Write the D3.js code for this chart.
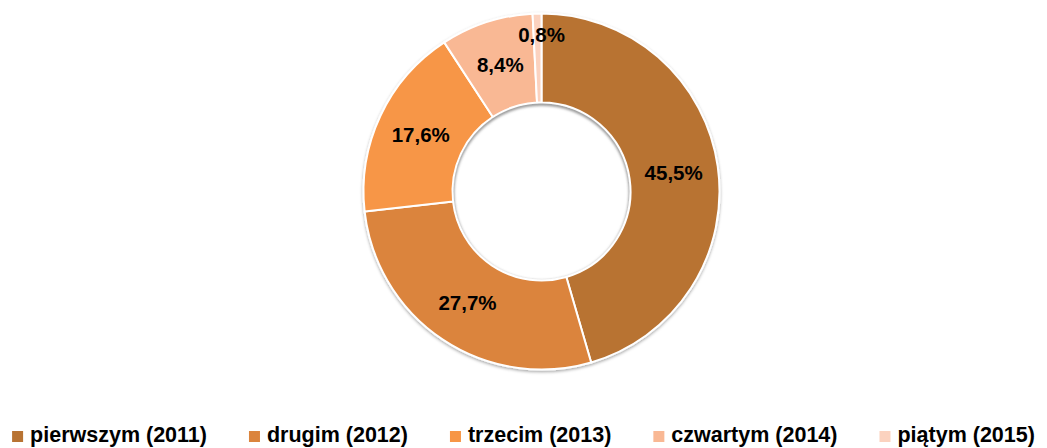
<!DOCTYPE html>
<html>
<head>
<meta charset="utf-8">
<script src="https://cdn.jsdelivr.net/npm/d3@7"></script>
<style>
    body { margin: 0; background: #fff; }
    svg { display: block; font-family: "Liberation Sans", Arial, sans-serif; font-weight: bold; }
</style>
</head>
<body>
<svg id="chart" width="1047" height="448"></svg>
<script>
var categories = ["pierwszym (2011)", "drugim (2012)", "trzecim (2013)", "czwartym (2014)", "piątym (2015)"];
var values = [45.5, 27.7, 17.6, 8.4, 0.8];
var colors = ["#B87333", "#DB843D", "#F79646", "#F9B894", "#FBD2BF"];

var width = 1047,
    height = 448,
    cx = 541.5,
    cy = 191.5,
    outer = 178,
    inner = 89;

var svg = d3.select("#chart");

// cienie
var defs = svg.append("defs");
var shadow = defs.append("filter").attr("id", "shadow")
    .attr("x", "-10%").attr("y", "-10%").attr("width", "120%").attr("height", "120%");
shadow.append("feDropShadow")
    .attr("dx", 0).attr("dy", 1.5).attr("stdDeviation", 1.5)
    .attr("flood-color", "#000").attr("flood-opacity", 0.35);
var blur = defs.append("filter").attr("id", "blur");
blur.append("feGaussianBlur").attr("stdDeviation", 1.5);
defs.append("clipPath").attr("id", "hole")
    .append("circle").attr("cx", cx).attr("cy", cy).attr("r", inner - 1);

var color = d3.scaleOrdinal()
    .domain(categories)
    .range(colors);

var pie = d3.pie()
    .sort(null)
    .value(function (d, i) {
        return values[i];
    });

var arc = d3.arc()
    .outerRadius(outer)
    .innerRadius(inner);

var arcs = pie(categories);

var g = svg.append("g")
    .attr("transform", "translate(" + cx + "," + cy + ")");

g.append("g")
    .attr("filter", "url(#shadow)")
    .selectAll("path")
    .data(arcs)
    .enter().append("path")
    .attr("d", arc)
    .attr("fill", function (d) {
        return color(d.data);
    })
    .attr("stroke", "#fff")
    .attr("stroke-width", 2)
    .attr("stroke-linejoin", "round");

// wewnętrzny cień w otworze
svg.append("g")
    .attr("clip-path", "url(#hole)")
    .append("circle")
    .attr("cx", cx)
    .attr("cy", cy + 1.5)
    .attr("r", inner + 1)
    .attr("fill", "none")
    .attr("stroke", "#999")
    .attr("stroke-width", 4)
    .attr("filter", "url(#blur)");

// etykiety
var labelArc = d3.arc()
    .outerRadius(outer)
    .innerRadius(inner);
var smallArc = d3.arc()
    .outerRadius(2 * 157 - 0)
    .innerRadius(0);

g.selectAll(".label")
    .data(arcs)
    .enter().append("text")
    .attr("class", "label")
    .attr("transform", function (d) {
        var small = d.endAngle - d.startAngle < 0.1;
        var p = small ? smallArc.centroid(d) : labelArc.centroid(d);
        if (small) p[0] += 4;
        return "translate(" + p[0] + "," + p[1] + ")";
    })
    .attr("text-anchor", "middle")
    .attr("dy", "0.36em")
    .attr("font-size", 20.5)
    .attr("fill", "#000")
    .text(function (d, i) {
        return values[i].toFixed(1).replace(".", ",") + "%";
    });

// legenda
var legend = svg.append("g").attr("class", "legend");
var items = legend.selectAll("g")
    .data(categories)
    .enter().append("g");
items.append("rect")
    .attr("width", 11)
    .attr("height", 11)
    .attr("y", -11)
    .attr("fill", function (d) {
        return color(d);
    });
items.append("text")
    .attr("x", 18)
    .attr("font-size", 21.5)
    .attr("fill", "#000")
    .text(function (d) {
        return d;
    });

var gap = 42, x = 0, pos = [];
items.each(function () {
    var w = 18 + this.querySelector("text").getComputedTextLength();
    pos.push(x);
    x += w + gap;
});
var total = x - gap;
var start = (width - total) / 2;
items.attr("transform", function (d, i) {
    return "translate(" + (start + pos[i]) + ",442)";
});
</script>
</body>
</html>
